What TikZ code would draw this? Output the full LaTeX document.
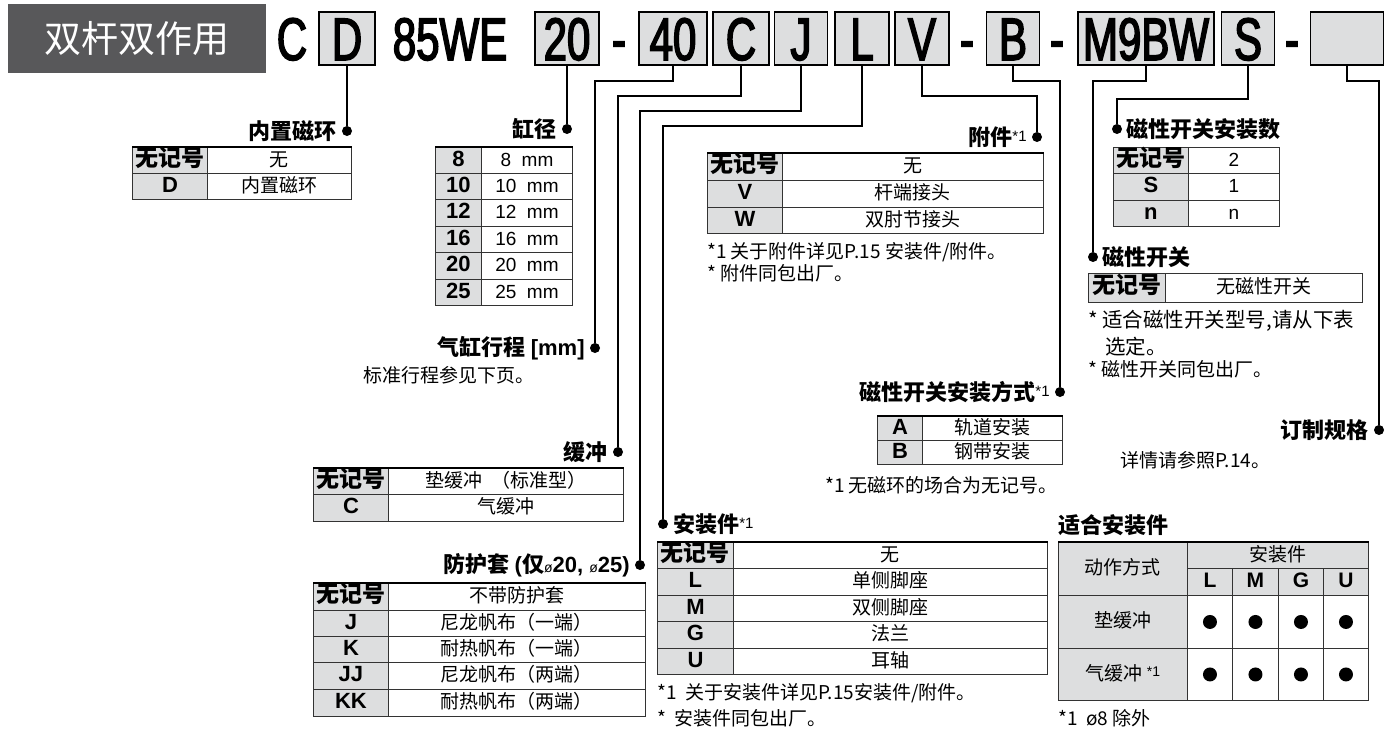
\documentclass[tikz,border=0pt]{standalone}
\usepackage{fontspec}
\setmainfont{Noto Sans CJK SC}
\newfontfamily\lat{Liberation Sans}
\newfontfamily\codefont[FakeStretch=0.70,FakeBold=2.5]{Liberation Sans}
\usetikzlibrary{positioning}
\definecolor{titlegray}{RGB}{88,88,90}
\definecolor{keygray}{RGB}{221,222,223}
\newcommand{\fs}[1]{\fontsize{#1}{#1}\selectfont}
\newcommand{\nosym}{\rmfamily\bfseries\fs{23}无记号}
\newcommand{\fn}{{\mdseries\lat\fs{15}\raisebox{4pt}{*1}}}
% one table row: name, x left, x split, x right, y top, y bottom, key, value
\newcommand{\tabrow}[8]{%
  \node[keycell, minimum width={#3-#2}, minimum height={#6-#5}] (#1k) at (#2,#5) {#7};
  \node[valcell, minimum width={#4-#3}, minimum height={#6-#5}] (#1v) at (#3,#5) {#8};}
\tikzset{
  codebox/.style={draw, line width=1.6pt, fill=keygray, inner sep=0pt, minimum height=53pt,
    text height=43pt, text depth=0pt, font=\codefont\fs{60}},
  codetext/.style={inner sep=0pt, minimum height=53pt, text height=43pt, text depth=0pt, font=\codefont\fs{60}},
  lead/.style={line width=2pt},
  dot/.style={circle, fill, inner sep=0pt, minimum size=10pt},
  bigdot/.style={circle, fill, inner sep=0pt, minimum size=14pt},
  tag/.style={inner sep=0pt, font=\bfseries\fs{22}},
  note/.style={inner sep=0pt, anchor=west, font=\fs{19}},
  keycell/.style={draw=black!80, line width=0.9pt, fill=keygray, inner sep=0pt, anchor=north west,
    text height=15pt, text depth=3pt, font=\lat\bfseries\fs{22}},
  valcell/.style={draw=black!80, line width=0.9pt, fill=white, inner sep=0pt, anchor=north west,
    text height=15pt, text depth=3pt, font=\fs{19}},
  toprule/.style={line width=2.4pt},
}

\begin{document}
\begin{tikzpicture}[x=1pt,y=-1pt]
\useasboundingbox (0,0) rectangle (1391,731);

% model code
\node[fill=titlegray, text=white, minimum width=258pt, minimum height=69pt, font=\fs{37}] (title) at (137,38.5) {双杆双作用};
\node[codetext] (cC) at (292,38.5) {C};
\node[codebox, minimum width=56pt] (bD) at (347,38.5) {D};
\node[codetext] (c85) at (450,38.5) {85WE};
\node[codebox, minimum width=64pt] (b20) at (567,38.5) {20};
\node[codetext] (h1) at (619,38.5) {-};
\node[codebox, minimum width=68pt] (b40) at (673,38.5) {40};
\node[codebox, minimum width=56pt] (bC) at (741,38.5) {C};
\node[codebox, minimum width=53pt] (bJ) at (801,38.5) {J};
\node[codebox, minimum width=54pt] (bL) at (862,38.5) {L};
\node[codebox, minimum width=54pt] (bV) at (922,38.5) {V};
\node[codetext] (h2) at (967,38.5) {-};
\node[codebox, minimum width=53pt] (bB) at (1013,38.5) {B};
\node[codetext] (h3) at (1057,38.5) {-};
\node[codebox, minimum width=136pt] (bM) at (1146,38.5) {M9BW};
\node[codebox, minimum width=53pt] (bS) at (1248,38.5) {S};
\node[codetext] (h4) at (1292,38.5) {-};
\node[codebox, minimum width=73pt] (bX) at (1347,38.5) {};

% dots
\node[dot] (dD) at (347,131) {};
\node[dot] (d20) at (567,129) {};
\node[dot] (d40) at (595,348) {};
\node[dot] (dC) at (618,452) {};
\node[dot] (dJ) at (640,565) {};
\node[dot] (dL) at (663,524) {};
\node[dot] (dV) at (1037,137) {};
\node[dot] (dB) at (1060,392) {};
\node[dot] (dM) at (1093,257) {};
\node[dot] (dS) at (1117,129) {};
\node[dot] (dX) at (1379,430) {};

% leaders
\draw[lead] (bD.south) -- (dD);
\draw[lead] (b20.south) -- (d20);
\draw[lead] (b40.south) -- ++(0,15) -| (d40);
\draw[lead] (bC.south) -- ++(0,30) -| (dC);
\draw[lead] (bJ.south) -- ++(0,45) -| (dJ);
\draw[lead] (bL.south) -- ++(0,60) -| (dL);
\draw[lead] (bV.south) -- ++(0,30) -| (dV);
\draw[lead] (bB.south) -- ++(0,15) -| (dB);
\draw[lead] (bM.south) -- ++(0,15) -| (dM);
\draw[lead] (bS.south) -- ++(0,33) -| (dS);
\draw[lead] (bX.south) -- ++(0,15) -| (dX);

% titles
\node[tag, left=5pt of dD] (tD) {内置磁环};
\node[tag, left=5pt of d20] (t20) {缸径};
\node[tag, left=5pt of d40] (t40) {气缸行程 {\lat [mm]}};
\node[tag, left=5pt of dC] (tC) {缓冲};
\node[tag, left=5pt of dJ] (tJ) {防护套 {\lat (}仅{\lat\mdseries\fs{14}ø}{\lat 20,\ }{\lat\mdseries\fs{14}ø}{\lat 25)}};
\node[tag, right=5pt of dL] (tL) {安装件\fn};
\node[tag, left=5pt of dV] (tV) {附件\fn};
\node[tag, left=5pt of dB] (tB) {磁性开关安装方式\fn};
\node[tag, right=4pt of dM] (tM) {磁性开关};
\node[tag, right=4pt of dS] (tS) {磁性开关安装数};
\node[tag, left=5pt of dX] (tX) {订制规格};
\node[tag, anchor=west] (tF) at (1058,525) {适合安装件};

% built-in magnet
\tabrow{mA}{132}{207}{351}{147}{173}{\nosym}{无}
\tabrow{mB}{132}{207}{351}{173}{199}{D}{内置磁环}
\draw[toprule] (mAk.north west) -- (mAv.north east);

% bore
\tabrow{bA}{435}{481}{572}{147}{173}{8}{\lat 8\ \ mm}
\tabrow{bB}{435}{481}{572}{173}{199}{10}{\lat 10\ \ mm}
\tabrow{bC}{435}{481}{572}{199}{226}{12}{\lat 12\ \ mm}
\tabrow{bD}{435}{481}{572}{226}{252}{16}{\lat 16\ \ mm}
\tabrow{bE}{435}{481}{572}{252}{279}{20}{\lat 20\ \ mm}
\tabrow{bF}{435}{481}{572}{279}{305}{25}{\lat 25\ \ mm}
\draw[toprule] (bAk.north west) -- (bAv.north east);
\node[note] (n40) at (363,375) {标准行程参见下页。};

% rod end
\tabrow{vA}{707}{782}{1043}{153}{180}{\nosym}{无}
\tabrow{vB}{707}{782}{1043}{180}{207}{V}{杆端接头}
\tabrow{vC}{707}{782}{1043}{207}{233}{W}{双肘节接头}
\draw[toprule] (vAk.north west) -- (vAv.north east);
\node[note] (nV1) at (707,252) {*1 关于附件详见P.15 安装件/附件。};
\node[note] (nV2) at (707,273) {* 附件同包出厂。};

% number of switches
\tabrow{sA}{1113}{1188}{1279}{147}{173}{\nosym}{\lat 2}
\tabrow{sB}{1113}{1188}{1279}{173}{200}{S}{\lat 1}
\tabrow{sC}{1113}{1188}{1279}{200}{226}{n}{\lat n}

% switch
\tabrow{wA}{1088}{1165}{1362}{273}{302}{\nosym}{无磁性开关}
\node[note, font=\fs{20.5}] (nM1) at (1088,321) {*\ 适合磁性开关型号,请从下表};
\node[note, font=\fs{20.5}] (nM2) at (1105,347) {选定。};
\node[note] (nM3) at (1088,369) {*\ 磁性开关同包出厂。};

% mounting of switch
\tabrow{aA}{877}{922}{1062}{416}{440}{A}{轨道安装}
\tabrow{aB}{877}{922}{1062}{440}{464}{B}{钢带安装}
\draw[toprule] (aAk.north west) -- (aAv.north east);
\node[note, anchor=east] (nB) at (1058,485) {*1 无磁环的场合为无记号。};

% made to order
\node[note] (nX) at (1120,460) {详情请参照P.14。};

% cushion
\tabrow{cA}{313}{388}{623}{468}{494}{\nosym}{垫缓冲\ \ （标准型）}
\tabrow{cB}{313}{388}{623}{494}{521}{C}{气缓冲}
\draw[toprule] (cAk.north west) -- (cAv.north east);

% boot
\tabrow{jA}{313}{388}{645}{583}{610}{\nosym}{不带防护套}
\tabrow{jB}{313}{388}{645}{610}{636}{J}{尼龙帆布（一端）}
\tabrow{jC}{313}{388}{645}{636}{662}{K}{耐热帆布（一端）}
\tabrow{jD}{313}{388}{645}{662}{689}{JJ}{尼龙帆布（两端）}
\tabrow{jE}{313}{388}{645}{689}{716}{KK}{耐热帆布（两端）}
\draw[toprule] (jAk.north west) -- (jAv.north east);

% mounting
\tabrow{lA}{657}{733}{1047}{542}{568}{\nosym}{无}
\tabrow{lB}{657}{733}{1047}{568}{595}{L}{单侧脚座}
\tabrow{lC}{657}{733}{1047}{595}{621}{M}{双侧脚座}
\tabrow{lD}{657}{733}{1047}{621}{648}{G}{法兰}
\tabrow{lE}{657}{733}{1047}{648}{674}{U}{耳轴}
\draw[toprule] (lAk.north west) -- (lAv.north east);
\node[note] (nL1) at (657,693) {*1\ \ 关于安装件详见P.15安装件/附件。};
\node[note] (nL2) at (657,718) {*\ \ 安装件同包出厂。};

% applicable mounting
\node[keycell, font=\rmfamily\fs{19}, minimum width=129pt, minimum height=53pt] (fH) at (1058,542) {动作方式};
\node[keycell, font=\rmfamily\fs{19}, minimum width=181pt, minimum height=26pt] (fT) at (1187,542) {安装件};
\node[keycell, font=\rmfamily\fs{19}, minimum width=129pt, minimum height=53pt] (fP) at (1058,595) {垫缓冲};
\node[keycell, font=\rmfamily\fs{19}, minimum width=129pt, minimum height=52pt] (fA) at (1058,648) {气缓冲 {\lat\fs{14}\raisebox{4pt}{*1}}};
\foreach \c/\x/\w in {L/1187/45,M/1232/46,G/1278/45,U/1323/45} {
  \node[keycell, font=\lat\bfseries\fs{21}, minimum width=\w, minimum height=27] (f\c) at (\x,568) {\c};
  \node[valcell, minimum width=\w, minimum height=53] (p\c) at (\x,595) {};
  \node[valcell, minimum width=\w, minimum height=52] (a\c) at (\x,648) {};
  \node[bigdot] (pd\c) at (p\c) {};
  \node[bigdot] (ad\c) at (a\c) {};
}
\draw[toprule] (fH.north west) -- (fT.north east);
\node[note] (nF) at (1058,718) {*1\ \ ø8 除外};
\end{tikzpicture}
\end{document}
